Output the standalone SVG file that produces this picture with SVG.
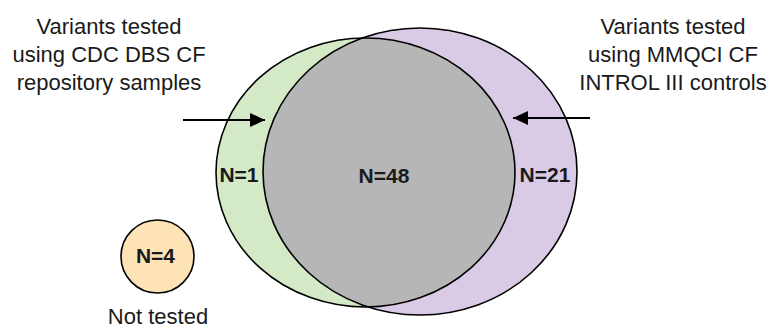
<svg xmlns="http://www.w3.org/2000/svg" width="771" height="330" viewBox="0 0 771 330">
  <style>
    .lbl { font-family: "Liberation Sans", Arial, sans-serif; font-size: 22px; fill: #1a1a1a; text-anchor: middle; }
    .num { font-family: "Liberation Sans", Arial, sans-serif; font-size: 21px; font-weight: bold; fill: #1a1a1a; text-anchor: middle; }
    .edge { fill: none; stroke: #000; stroke-width: 1.6; }
    .conn { stroke: #000; stroke-width: 2.2; fill: none; }
  </style>
  <defs>
    <marker id="head" viewBox="0 0 15 14" refX="15" refY="7" markerWidth="15" markerHeight="14" orient="auto" markerUnits="userSpaceOnUse">
      <path d="M0,0 L15,7 L0,14 z" fill="#000"/>
    </marker>
    <clipPath id="cdcClip">
      <ellipse cx="365.5" cy="172.5" rx="149.5" ry="134.5"/>
    </clipPath>
  </defs>

  <!-- set drawn from CDC DBS CF repository samples -->
  <g id="set-cdc">
    <ellipse cx="365.5" cy="172.5" rx="149.5" ry="134.5" fill="#d4e9c6"/>
    <text class="num" x="239" y="182">N=1</text>
  </g>

  <!-- set drawn from MMQCI CF INTROL III controls -->
  <g id="set-mmqci">
    <ellipse cx="420" cy="171.5" rx="157" ry="143.5" fill="#d9cae5"/>
    <text class="num" x="545" y="182">N=21</text>
  </g>

  <!-- variants covered by both sources -->
  <g id="set-both">
    <ellipse cx="420" cy="171.5" rx="157" ry="143.5" fill="#b6b6b6" clip-path="url(#cdcClip)"/>
    <ellipse class="edge" cx="420" cy="171.5" rx="157" ry="143.5"/>
    <ellipse class="edge" cx="365.5" cy="172.5" rx="149.5" ry="134.5" stroke="#150a1c"/>
    <text class="num" x="384" y="183">N=48</text>
  </g>

  <!-- variants not covered -->
  <g id="not-tested">
    <circle cx="157.5" cy="256.5" r="36.5" fill="#fde3b6" stroke="#000" stroke-width="1.6"/>
    <text class="num" x="155.5" y="263">N=4</text>
    <text class="lbl" x="158" y="324">Not tested</text>
  </g>

  <g id="label-cdc">
    <text class="lbl" x="109" y="34">Variants tested</text>
    <text class="lbl" x="109" y="62">using CDC DBS CF</text>
    <text class="lbl" x="109" y="90">repository samples</text>
  </g>

  <g id="label-mmqci">
    <text class="lbl" x="673" y="34">Variants tested</text>
    <text class="lbl" x="673" y="62">using MMQCI CF</text>
    <text class="lbl" x="673" y="90">INTROL III controls</text>
  </g>

  <g id="connectors">
    <line class="conn" x1="183" y1="120" x2="265" y2="120" marker-end="url(#head)"/>
    <line class="conn" x1="590" y1="118" x2="513" y2="118" marker-end="url(#head)"/>
  </g>
</svg>
